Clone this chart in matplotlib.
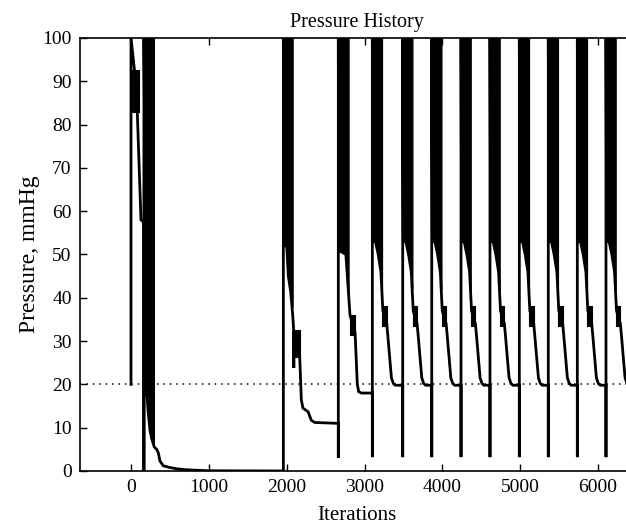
import numpy as np
import matplotlib.pyplot as plt

# pressure trace (iterations, mmHg); first cycles are irregular
early_x = [0, 0, 45, 81, 128, 158, 166, 166, 166, 200, 222, 244, 265, 300, 330, 351,
           372, 415, 500, 587, 700, 800, 1000, 1957, 1957, 1965, 2000, 2021, 2051,
           2077, 2088, 2091, 2094, 2167, 2188, 2209, 2274, 2316, 2360, 2663, 2663,
           2663, 2668, 2760, 2813, 2878, 2895, 2907, 2925, 2960, 3100]
early_y = [20, 100, 92.5, 82.8, 58, 57.5, 57.5, 0, 100, 19, 13.3, 9.4, 7.5, 5.5, 5,
           4.2, 2.3, 1.2, 0.8, 0.5, 0.3, 0.2, 0.05, 0, 100, 52, 52, 45, 41.4, 36, 33,
           23.8, 32, 26.4, 16.4, 14.5, 13.7, 11.7, 11.2, 11, 3, 100, 51, 50, 36, 32,
           25, 20, 18.3, 18, 18]

# oscillation bands of the early cycles: (x, low edge, high edge)
band_a_x = [3, 103]
band_a_lo = [82.8, 82.8]
band_a_hi = [92.5, 92.5]
band_b_x = [166, 200, 222, 244, 265, 295]
band_b_lo = [20, 19, 13.3, 9.4, 7.5, 5.5]
band_c_x = [1957, 2000, 2021, 2051, 2077]
band_c_lo = [52, 52, 45, 41.4, 38]
band_c2_x = [2085, 2170]
band_c2_lo = [26.4, 26.4]
band_c2_hi = [32.6, 32.6]
band_d_x = [2663, 2760, 2795]
band_d_lo = [51, 50, 41]
band_d2_x = [2813, 2878]
band_d2_lo = [31.5, 31.5]
band_d2_hi = [36, 36]

# regular cycles: restart iterations and one cycle shape (offset from restart)
cycle_starts = [3100, 3490, 3863, 4239, 4611, 4988, 5360, 5733, 6101]
cycle_off = [8, 40, 75, 110, 135, 185, 200, 245, 270, 295]
cycle_val = [53, 53, 50, 46, 37, 34, 31, 21.5, 20.2, 19.8]
cycle_band_off = [0, 40, 75, 110, 125]
cycle_band_lo = [53, 53, 50, 46, 42]
cycle_small_off = [130, 185]
cycle_small_lo = [33.5, 33.5]
cycle_small_hi = [38, 38]
restart_low = 3.2
plateau = 19.8
peak = 100
target = 20

# assemble full trace
tx = list(early_x)
ty = list(early_y)
for d in cycle_starts:
    tx += [d, d, d]
    ty += [ty[-1], restart_low, peak]
    tx += [d + o for o in cycle_off]
    ty += cycle_val
tx.append(6500)
ty.append(plateau)

plt.rcParams['font.family'] = ['Liberation Serif', 'DejaVu Serif']

fig = plt.figure(figsize=(6.26, 5.26), dpi=100)
ax = fig.add_axes([0.1278, 0.1046, 0.885, 0.8232])

ax.axhline(target, color='k', lw=1.1, dashes=(1, 3.2))

bands = [(band_a_x, band_a_lo, band_a_hi),
         (band_b_x, band_b_lo, [peak] * len(band_b_x)),
         (band_c_x, band_c_lo, [peak] * len(band_c_x)),
         (band_c2_x, band_c2_lo, band_c2_hi),
         (band_d_x, band_d_lo, [peak] * len(band_d_x)),
         (band_d2_x, band_d2_lo, band_d2_hi)]
for d in cycle_starts:
    bands.append(([d + o for o in cycle_band_off], cycle_band_lo,
                  [peak] * len(cycle_band_off)))
    bands.append(([d + o for o in cycle_small_off], cycle_small_lo, cycle_small_hi))

for bx, lo, hi in bands:
    ax.fill_between(bx, lo, hi, color='k', lw=0.8, edgecolor='k')

ax.plot(tx, ty, color='k', lw=2.0, solid_joinstyle='miter')

ax.set_xlim(-655, 6461)
ax.set_ylim(0, 100)
ax.set_xticks(np.arange(0, 7000, 1000))
ax.set_yticks(np.arange(0, 101, 10))
ax.tick_params(direction='in', top=True, right=False, length=5, width=1,
               labelsize=14, pad=6)
ax.spines['right'].set_visible(False)
for s in ['left', 'top', 'bottom']:
    ax.spines[s].set_linewidth(1.2)

ax.set_title('Pressure History', fontsize=14.5, pad=8)
ax.set_xlabel('Iterations', fontsize=15, labelpad=7)
ax.set_ylabel('Pressure, mmHg', fontsize=17, labelpad=2)

fig.savefig('out.png', dpi=100)
